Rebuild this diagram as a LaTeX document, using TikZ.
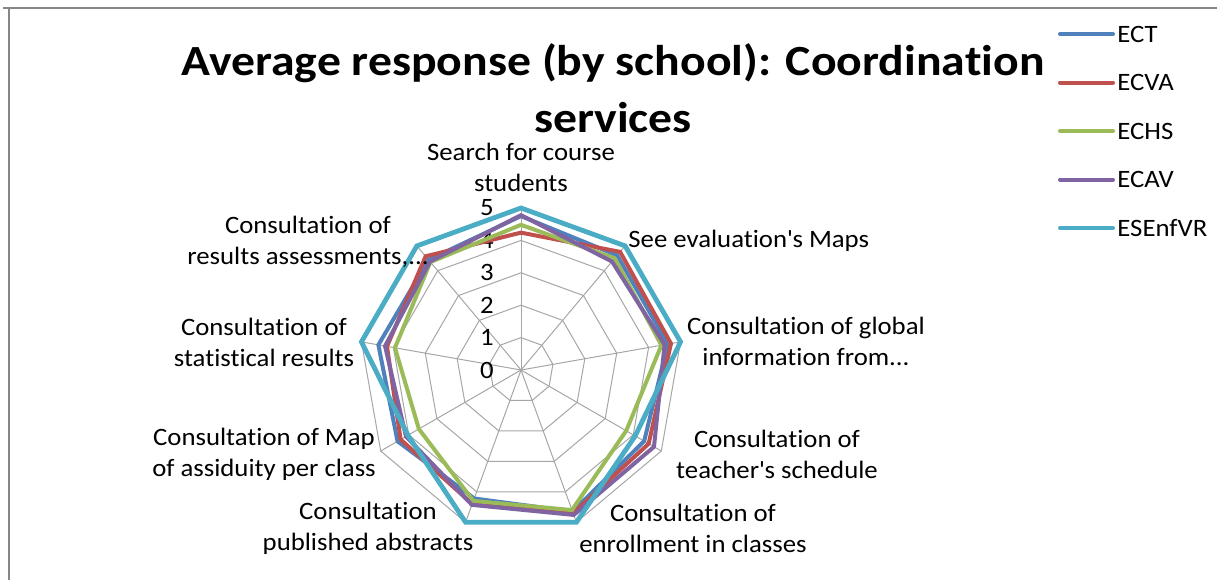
\documentclass[tikz,border=0pt]{standalone}
\usepackage{fontspec}
\setmainfont{Carlito}
\newfontfamily\labfont[FakeStretch=1.07, Ligatures={NoCommon}]{Carlito}
\newfontfamily\titlefont[FakeStretch=1.11, Ligatures={NoCommon}]{Carlito}
\definecolor{cECT}{HTML}{4F81BD}
\definecolor{cECVA}{HTML}{C0504D}
\definecolor{cECHS}{HTML}{9BBB59}
\definecolor{cECAV}{HTML}{8064A2}
\definecolor{cESE}{HTML}{4BACC6}
\definecolor{gridcol}{HTML}{A6A6A6}
\definecolor{framecol}{HTML}{868686}
\definecolor{txtcol}{HTML}{000000}
\tikzset{
  gridline/.style={draw=gridcol, line width=0.5pt},
  serie/.style={line width=2pt, line join=miter},
  lab/.style={align=center, inner sep=0pt, text=txtcol},
  legline/.style={line width=2pt, line cap=round},
  legtxt/.style={anchor=west, inner sep=0pt},
}
\newcommand\radarseries[3]{%
  \path \foreach \v [count=\k from 0] in {#3} { coordinate (#1\k) at ({90-40*\k}:{\v*32.4}) };
  \draw[serie,#2] (#10) -- (#11) -- (#12) -- (#13) -- (#14) -- (#15) -- (#16) -- (#17) -- (#18) -- cycle;
}
\begin{document}
\begin{tikzpicture}[x=0.5pt,y=-0.5pt, font=\labfont\fontsize{12.5}{15.5}\selectfont]
\useasboundingbox (0,0) rectangle (1217,580);
% frame
\draw[framecol, line width=1pt] (3,8) -- (1217,8);
\draw[framecol, line width=0.6pt] (9,8) -- (9,580);
% title
\node[lab, font=\titlefont\bfseries\fontsize{21.5}{28.3}\selectfont] (title) at (613,88)
  {Average response (by school): Coordination\\services};
% radar
\coordinate (C) at (521,370);
\begin{scope}[shift={(C)}, x=0.5pt, y=0.5pt]
  \foreach \r in {1,...,5}
    \draw[gridline] (90:{\r*32.4}) \foreach \k in {1,...,8} { -- ({90-40*\k}:{\r*32.4}) } -- cycle;
  \foreach \k in {0,...,8}
    \draw[gridline] (0,0) -- ({90-40*\k}:162);
  \foreach \i in {0,...,5}
    \node[anchor=east, inner sep=0pt] (n\i) at (-27,{\i*32.4}) {\i};
  \radarseries{b}{cECT}{4.75,4.62,4.6,4.39,4.65,4.22,4.4,4.47,4.44}
  \radarseries{r}{cECVA}{4.24,4.76,4.7,4.55,4.7,4.4,4.29,4.2,4.58}
  \radarseries{g}{cECHS}{4.48,4.5,4.4,3.75,4.6,4.3,3.64,3.95,4.35}
  \radarseries{p}{cECAV}{4.78,4.37,4.5,4.74,4.76,4.43,4.1,4.26,4.37}
  \radarseries{c}{cESE, line width=2.4pt}{5,5,5,4.07,5,5,4.03,5,5}
\end{scope}
% axis labels
\node[lab] (l0) at (521,167) {Search for course\\students};
\node[lab, anchor=west] (l1) at (628,241) {See evaluation\textquotesingle s Maps};
\node[lab] (l2) at (806,341) {Consultation of global\\information from...};
\node[lab] (l3) at (777,454) {Consultation of\\teacher\textquotesingle s schedule};
\node[lab] (l4) at (693,528) {Consultation of\\enrollment in classes};
\node[lab] (l5) at (368,528) {Consultation\\published abstracts};
\node[lab] (l6) at (264,454) {Consultation of Map\\of assiduity per class};
\node[lab] (l7) at (264,342) {Consultation of\\statistical results};
\node[lab] (l8) at (308,242) {Consultation of\\results assessments,...};
% legend
\foreach \name/\col [count=\j from 0] in {ECT/cECT,ECVA/cECVA,ECHS/cECHS,ECAV/cECAV,ESEnfVR/cESE}{
  \coordinate (ls\j) at (1060,{34+48.5*\j});
  \coordinate (le\j) at (1113,{34+48.5*\j});
  \draw[legline,\col] (ls\j) -- (le\j);
  \node[legtxt] (lt\j) at ([xshift=2pt]le\j) {\name};
}
\end{tikzpicture}
\end{document}
